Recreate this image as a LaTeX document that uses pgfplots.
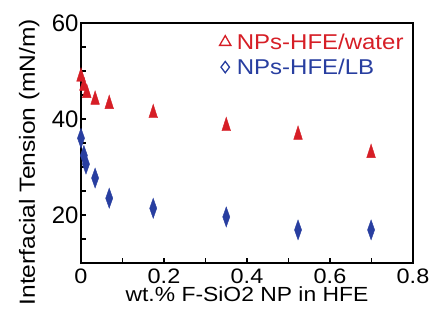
\documentclass[border=0pt]{standalone}
\usepackage{pgfplots}
\pgfplotsset{compat=1.18}
\usepackage{fontspec}
\setmainfont[FakeStretch=1.12]{Liberation Sans}
\newfontfamily\ytickfont{Liberation Sans}
\definecolor{myred}{RGB}{214,30,38}
\definecolor{myblue}{RGB}{40,62,160}
\begin{document}
\begin{tikzpicture}
\begin{axis}[name=ax, scale only axis, width=332bp, height=240bp,
  xmin=0, xmax=0.8, ymin=10, ymax=60,
  xtick={0,0.2,0.4,0.6,0.8}, minor xtick={0.1,0.3,0.5,0.7},
  ytick={20,40,60}, minor ytick={15,25,30,35,45,50,55},
  xtick pos=bottom, ytick pos=left,
  tick align=inside, major tick length=5bp, minor tick length=5bp,
  axis line style={line width=1.6bp}, tick style={line width=1.2bp, black},
  /pgf/number format/assume math mode=true,
  xticklabel style={font=\fontsize{21}{21}\selectfont, yshift=-2bp},
  yticklabel style={font=\ytickfont\fontsize{24}{24}\selectfont, xshift=1bp},
  xlabel style={font=\fontsize{20.5}{20.5}\selectfont, yshift=3bp},
  xlabel={wt.\% F-SiO2 NP in HFE},
  ylabel={Interfacial Tension (mN/m)},
  ylabel style={font=\fontsize{22}{22}\selectfont, at={([xshift=-38bp]rel axis cs:0,0.42)}, anchor=south},
  legend style={draw=none, fill=none, at={(rel axis cs:0.978,0.965)}, anchor=north east,
    font=\fontsize{21.5}{22}\selectfont, row sep=4bp, column sep=4bp, inner sep=0pt,
    nodes={inner sep=2bp}},
  legend cell align=left,
]
\addplot[only marks, mark=triangle*, color=myred, mark size=5bp, mark options={yscale=1.8}, forget plot]
  coordinates {(0,48.8)(0.007,46.9)(0.014,45.4)(0.034,44.0)(0.068,43.1)(0.174,41.2)(0.350,38.5)(0.523,36.7)(0.699,32.9)};
\addplot[only marks, mark=diamond*, color=myblue, mark size=5bp, mark options={yscale=2, xscale=0.95}, forget plot]
  coordinates {(0,36.0)(0.007,32.4)(0.012,30.6)(0.034,27.7)(0.068,23.5)(0.174,21.4)(0.350,19.6)(0.523,16.9)(0.699,16.9)};
\addlegendimage{only marks, mark=triangle, color=myred, mark size=6.5bp, mark options={line width=1.3bp}}
\addlegendentry{\textcolor{myred}{NPs-HFE/water}}
\addlegendimage{only marks, mark=diamond, color=myblue, mark size=5.7bp, mark options={line width=1.3bp}}
\addlegendentry{\textcolor{myblue}{NPs-HFE/LB}}
\end{axis}
\pgfresetboundingbox
\path[use as bounding box] ([xshift=-81bp,yshift=-70bp]ax.south west) rectangle ([xshift=28bp,yshift=23bp]ax.north east);
\end{tikzpicture}
\end{document}
